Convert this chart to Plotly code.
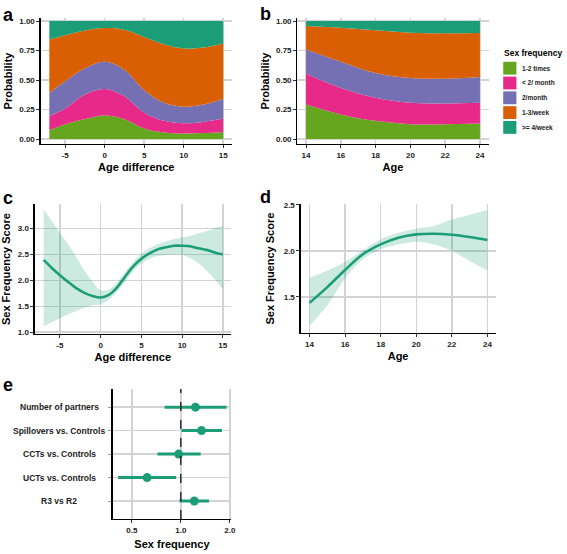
import plotly.graph_objects as go

W, H = 567, 554
GREEN = "#1b9e77"
RIBBON = "rgba(27,158,119,0.22)"
FONT = "Liberation Sans"

# ---------------- data ----------------
freq_labels = ["1-2 times", "< 2/ month", "2/month", "1-3/week", ">= 4/week"]
freq_colors = ["#66a61e", "#e7298a", "#7570b3", "#d95f02", "#1b9e77"]

# panel a: probability by age difference (per category, stacked)
a_x = [-7, -5, -2.5, 0, 2.5, 5, 7.5, 10, 12.5, 15]
a_p1 = [0.075, 0.126, 0.170, 0.200, 0.168, 0.090, 0.056, 0.047, 0.050, 0.060]
a_p2 = [0.121, 0.131, 0.207, 0.225, 0.195, 0.133, 0.098, 0.087, 0.095, 0.113]
a_p3 = [0.194, 0.232, 0.223, 0.231, 0.224, 0.190, 0.153, 0.140, 0.148, 0.167]
a_p4 = [0.454, 0.391, 0.320, 0.285, 0.340, 0.453, 0.497, 0.494, 0.483, 0.470]
a_p5 = [0.156, 0.120, 0.080, 0.059, 0.073, 0.134, 0.196, 0.232, 0.224, 0.190]

# panel b: probability by age
b_x = [14, 16, 18, 20, 22, 24]
b_p1 = [0.293, 0.209, 0.154, 0.126, 0.126, 0.131]
b_p2 = [0.260, 0.224, 0.195, 0.181, 0.176, 0.176]
b_p3 = [0.207, 0.223, 0.210, 0.210, 0.209, 0.218]
b_p4 = [0.198, 0.288, 0.363, 0.385, 0.386, 0.374]
b_p5 = [0.042, 0.056, 0.078, 0.098, 0.103, 0.101]

# panel c: score vs age difference
c_x = [-7, -6, -5, -4, -3, -2, -1, 0, 1, 2, 3, 4, 5, 6, 7, 8, 9, 10, 11, 12, 13, 14, 15]
c_fit = [2.395, 2.24, 2.10, 1.97, 1.85, 1.76, 1.70, 1.67, 1.72, 1.86, 2.07, 2.27,
         2.42, 2.52, 2.60, 2.64, 2.67, 2.67, 2.66, 2.62, 2.59, 2.54, 2.50]
c_lo = [1.11, 1.19, 1.27, 1.34, 1.41, 1.47, 1.52, 1.54, 1.62, 1.78, 1.97, 2.18,
        2.33, 2.42, 2.47, 2.49, 2.50, 2.49, 2.43, 2.33, 2.19, 2.02, 1.82]
c_hi = [3.37, 3.15, 2.92, 2.70, 2.45, 2.19, 1.98, 1.81, 1.82, 1.96, 2.16, 2.36,
        2.52, 2.62, 2.70, 2.75, 2.80, 2.83, 2.86, 2.91, 2.955, 3.01, 3.05]

# panel d: score vs age
d_x = [14, 15, 16, 17, 18, 19, 20, 21, 22, 23, 24]
d_fit = [1.436, 1.607, 1.793, 1.964, 2.071, 2.143, 2.179, 2.186, 2.175, 2.150, 2.118]
d_lo = [1.186, 1.41, 1.70, 1.91, 2.018, 2.07, 2.10, 2.07, 2.00, 1.89, 1.786]
d_hi = [1.707, 1.786, 1.88, 2.007, 2.125, 2.196, 2.24, 2.27, 2.34, 2.39, 2.446]

# panel e: odds ratios
e_labels = ["Number of partners", "Spillovers vs. Controls", "CCTs vs. Controls",
            "UCTs vs. Controls", "R3 vs R2"]
e_est = [1.23, 1.34, 0.97, 0.62, 1.21]
e_lo = [0.795, 1.01, 0.718, 0.411, 0.98]
e_hi = [1.91, 1.79, 1.325, 0.937, 1.49]

# ---------------- helpers ----------------
def dx(a, b):
    return [a / W, b / W]

def dy(top, bottom):
    return [1 - bottom / H, 1 - top / H]

tickfont = dict(family=FONT, size=8, color="#222", weight="bold")
titlefont = dict(family=FONT, size=11, color="black", weight="bold")
GRID = "#d3d3d3"

def axis(domain, rng, anchor, title=None, standoff=4, **kw):
    d = dict(domain=domain, range=rng, anchor=anchor, showline=True, linecolor="black",
             linewidth=1.2, ticks="outside", ticklen=3, tickwidth=1, tickcolor="#333",
             tickfont=tickfont, showgrid=True, gridcolor=GRID, gridwidth=1.5,
             zeroline=False, fixedrange=True)
    if title:
        d["title"] = dict(text=title, font=titlefont, standoff=standoff)
    d.update(kw)
    return d

fig = go.Figure()

# panel a & b stacked areas
a_vals = [a_p1, a_p2, a_p3, a_p4, a_p5]
b_vals = [b_p1, b_p2, b_p3, b_p4, b_p5]
for i in range(5):
    fig.add_trace(go.Scatter(x=a_x, y=a_vals[i], stackgroup="a", mode="lines",
                             line=dict(width=0, shape="spline", color=freq_colors[i]),
                             fillcolor=freq_colors[i], name=freq_labels[i],
                             xaxis="x", yaxis="y", showlegend=False))
for i in range(5):
    fig.add_trace(go.Scatter(x=b_x, y=b_vals[i], stackgroup="b", mode="lines",
                             line=dict(width=0, shape="spline", color=freq_colors[i]),
                             fillcolor=freq_colors[i], name=freq_labels[i],
                             xaxis="x2", yaxis="y2", showlegend=False))

# panel c ribbon + line
fig.add_trace(go.Scatter(x=c_x, y=c_lo, mode="lines", line=dict(width=0, shape="spline"),
                         xaxis="x3", yaxis="y3", showlegend=False, hoverinfo="skip"))
fig.add_trace(go.Scatter(x=c_x, y=c_hi, mode="lines", line=dict(width=0, shape="spline"),
                         fill="tonexty", fillcolor=RIBBON, xaxis="x3", yaxis="y3",
                         showlegend=False, hoverinfo="skip"))
fig.add_trace(go.Scatter(x=c_x, y=c_fit, mode="lines",
                         line=dict(width=2.6, shape="spline", color=GREEN),
                         xaxis="x3", yaxis="y3", showlegend=False))

# panel d ribbon + line
fig.add_trace(go.Scatter(x=d_x, y=d_lo, mode="lines", line=dict(width=0, shape="spline"),
                         xaxis="x4", yaxis="y4", showlegend=False, hoverinfo="skip"))
fig.add_trace(go.Scatter(x=d_x, y=d_hi, mode="lines", line=dict(width=0, shape="spline"),
                         fill="tonexty", fillcolor=RIBBON, xaxis="x4", yaxis="y4",
                         showlegend=False, hoverinfo="skip"))
fig.add_trace(go.Scatter(x=d_x, y=d_fit, mode="lines",
                         line=dict(width=2.6, shape="spline", color=GREEN),
                         xaxis="x4", yaxis="y4", showlegend=False))

# panel e forest plot
fig.add_trace(go.Scatter(
    x=e_est, y=e_labels, mode="markers",
    marker=dict(size=9, color=GREEN),
    error_x=dict(type="data", symmetric=False,
                 array=[h - e for h, e in zip(e_hi, e_est)],
                 arrayminus=[e - l for e, l in zip(e_est, e_lo)],
                 color=GREEN, thickness=3, width=0),
    xaxis="x5", yaxis="y5", showlegend=False))

layout = dict(
    width=W, height=H, margin=dict(l=0, r=0, t=0, b=0),
    paper_bgcolor="white", plot_bgcolor="white", showlegend=False,
    font=dict(family=FONT),
    xaxis=axis(dx(41, 234), [-8.1, 16.1], "y", "Age difference", 4,
               tickvals=[-5, 0, 5, 10, 15], ticktext=["-5", "0", "5", "10", "15"]),
    yaxis=axis(dy(14, 142), [-0.044, 1.028], "x", "Probability", 4,
               tickvals=[0, 0.25, 0.5, 0.75, 1.0], tickformat=".2f"),
    xaxis2=axis(dx(300, 493), [13.5, 24.5], "y2", "Age", 4,
                tickvals=[14, 16, 18, 20, 22, 24]),
    yaxis2=axis(dy(14, 142), [-0.044, 1.028], "x2", "Probability", 4,
                tickvals=[0, 0.25, 0.5, 0.75, 1.0], tickformat=".2f"),
    xaxis3=axis(dx(35, 233), [-8.1, 16.0], "y3", "Age difference", 4,
                tickvals=[-5, 0, 5, 10, 15], ticktext=["-5", "0", "5", "10", "15"]),
    yaxis3=axis(dy(203, 334), [0.968, 3.468], "x3", "Sex Frequency Score", 8,
                tickvals=[1.0, 1.5, 2.0, 2.5, 3.0], tickformat=".1f"),
    xaxis4=axis(dx(303.3, 500), [13.5, 24.46], "y4", "Age", 4,
                tickvals=[14, 16, 18, 20, 22, 24]),
    yaxis4=axis(dy(202.7, 333.3), [1.108, 2.507], "x4", "Sex Frequency Score", 6,
                tickvals=[1.5, 2.0, 2.5], tickformat=".1f"),
    xaxis5=axis(dx(113.7, 233.3), [-0.419, 0.31], "y5", "Sex frequency", 6,
                type="log", tickvals=[0.5, 1, 2], ticktext=["0.5", "1.0", "2.0"]),
    yaxis5=axis(dy(390, 521.7), [4.77, -0.77], "x5", None,
                type="category", categoryorder="array", categoryarray=e_labels,
                showticklabels=False, tickcolor="#999"),
)
fig.update_layout(**layout)

# dashed reference line at 1
fig.add_shape(type="line", x0=1, x1=1, y0=0, y1=1, xref="x5", yref="y5 domain",
              line=dict(color="black", width=1.2, dash="dash"))

# category labels for panel e (centered)
for lab in e_labels:
    fig.add_annotation(x=60 / W, y=lab, xref="paper", yref="y5", text=lab,
                       showarrow=False, xanchor="center", yanchor="middle",
                       font=dict(family=FONT, size=8.5, color="#222", weight="bold"))

# panel letters
for letter, px, py in [("a", 1, 11), ("b", 260, 10), ("c", 1, 196), ("d", 260, 195), ("e", 1, 386)]:
    fig.add_annotation(x=px / W, y=1 - py / H, xref="paper", yref="paper", text=letter,
                       showarrow=False, xanchor="left", yanchor="middle",
                       font=dict(family=FONT, size=18, color="black", weight="bold"))

# legend (manual)
fig.add_annotation(x=506.5 / W, y=1 - 50 / H, xref="paper", yref="paper",
                   text="Sex frequency", showarrow=False, xanchor="left", yanchor="middle",
                   font=dict(family=FONT, size=8.5, color="black", weight="bold"))
for i, (lab, col) in enumerate(zip(freq_labels, freq_colors)):
    yc = 65 + 15 * i
    fig.add_shape(type="rect", xref="paper", yref="paper",
                  x0=507.7 / W, x1=521 / W, y0=1 - (yc + 6.5) / H, y1=1 - (yc - 6.5) / H,
                  fillcolor=col, line=dict(width=0))
    fig.add_annotation(x=524.5 / W, y=1 - yc / H, xref="paper", yref="paper", text=lab,
                       showarrow=False, xanchor="left", yanchor="middle",
                       font=dict(family=FONT, size=6.5, color="#222", weight="bold"))

fig.write_html("out.html", config={"displayModeBar": False, "staticPlot": True},
               post_script="document.body.style.margin='0';")
